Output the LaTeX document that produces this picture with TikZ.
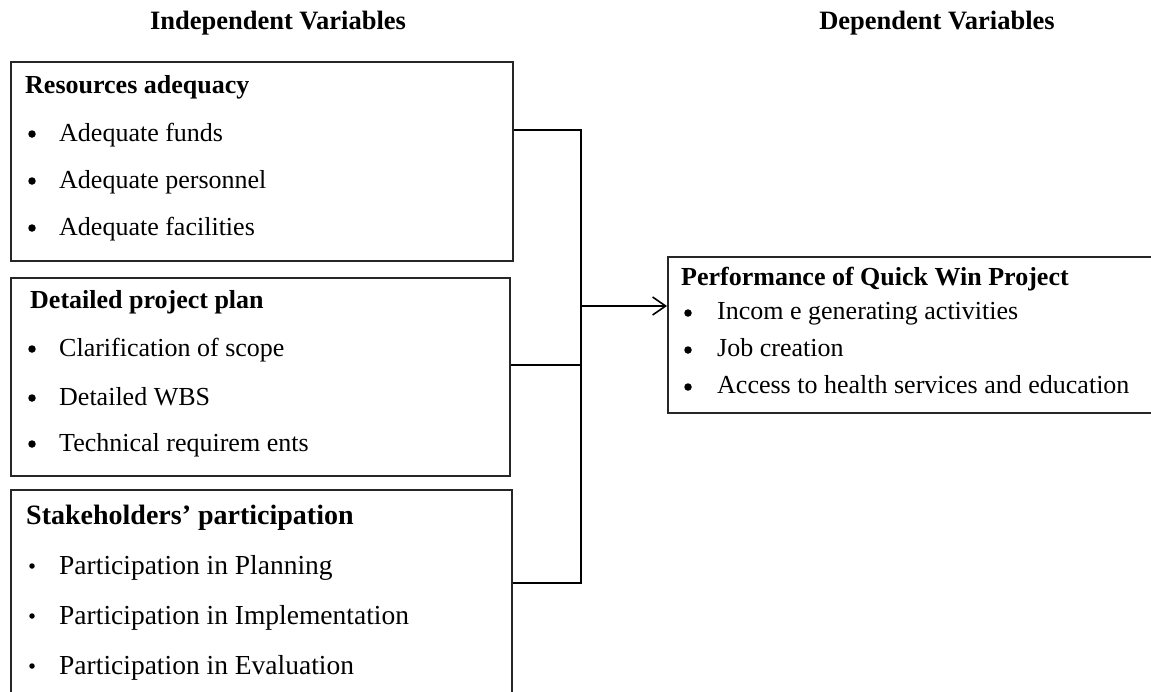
\documentclass[tikz,border=0pt]{standalone}
\usepackage{fontspec}
\setmainfont{Liberation Serif}
\usetikzlibrary{arrows.meta}
\begin{document}
\begin{tikzpicture}[x=1pt,y=-1pt,
  box/.style={draw=black!85,line width=1.8pt,anchor=north west,inner sep=0pt},
  heading/.style={font=\fontsize{26.5}{30}\selectfont\bfseries},
  btitle/.style={anchor=base west,inner sep=0pt,font=\fontsize{26}{30}\selectfont\bfseries},
  item/.style={anchor=base west,inner sep=0pt,font=\fontsize{26}{30}\selectfont},
  bigtitle/.style={anchor=base west,inner sep=0pt,font=\fontsize{28}{32}\selectfont\bfseries},
  bigitem/.style={anchor=base west,inner sep=0pt,font=\fontsize{27.5}{32}\selectfont},
  dot/.style={circle,fill=black,inner sep=0pt,minimum size=7.5pt},
  smalldot/.style={circle,fill=black,inner sep=0pt,minimum size=5.5pt},
  conn/.style={line width=1.8pt,draw=black}]
\useasboundingbox (0,0) rectangle (1151,691);
\clip (0,0) rectangle (1151,691);

% headings
\node[heading] (hi) at (278,23) {Independent Variables};
\node[heading] (hd) at (937,23) {Dependent Variables};

% boxes
\node[box,minimum width=502pt,minimum height=199pt] (b1) at (10,61) {};
\node[box,minimum width=499pt,minimum height=198pt] (b2) at (10,277) {};
\node[box,minimum width=501pt,minimum height=230pt] (b3) at (10,489) {};
\node[box,minimum width=520pt,minimum height=156pt] (dv) at (667,256) {};

% box 1
\node[btitle] (t1) at (25,93) {Resources adequacy};
\node[dot] (d11) at (32,134) {};
\node[item] (i11) at (59,141) {Adequate funds};
\node[dot] (d12) at (32,181) {};
\node[item] (i12) at (59,188) {Adequate personnel};
\node[dot] (d13) at (32,228) {};
\node[item] (i13) at (59,235) {Adequate facilities};

% box 2
\node[btitle] (t2) at (30,308) {Detailed project plan};
\node[dot] (d21) at (32,349) {};
\node[item] (i21) at (59,356) {Clarification of scope};
\node[dot] (d22) at (32,398) {};
\node[item] (i22) at (59,405) {Detailed WBS};
\node[dot] (d23) at (32,444) {};
\node[item] (i23) at (59,451) {Technical requirem ents};

% box 3
\node[bigtitle] (t3) at (26,524) {Stakeholders’ participation};
\node[smalldot] (d31) at (32,566) {};
\node[bigitem] (i31) at (59,574) {Participation in Planning};
\node[smalldot] (d32) at (32,616) {};
\node[bigitem] (i32) at (59,624) {Participation in Implementation};
\node[smalldot] (d33) at (32,666) {};
\node[bigitem] (i33) at (59,674) {Participation in Evaluation};

% dependent box
\node[btitle] (t4) at (681,285) {Performance of Quick Win Project};
\node[dot] (d41) at (688,313) {};
\node[item] (i41) at (717,319) {Incom e generating activities};
\node[dot] (d42) at (688,350) {};
\node[item] (i42) at (717,356) {Job creation};
\node[dot] (d43) at (688,387) {};
\node[item] (i43) at (717,393) {Access to health services and education};

% connectors
\coordinate (c1) at (581,130);
\coordinate (c2) at (581,365);
\coordinate (c3) at (581,583);
\coordinate (jn) at (581,306);
\draw[conn] (b1.east |- c1) -- (c1) -- (c3) -- (b3.east |- c3);
\draw[conn] (b2.east |- c2) -- (c2);
\draw[conn,-{Straight Barb[length=13pt,width=18pt,line width=1.6pt]}] (jn) -- (dv.west |- jn);
\end{tikzpicture}
\end{document}
